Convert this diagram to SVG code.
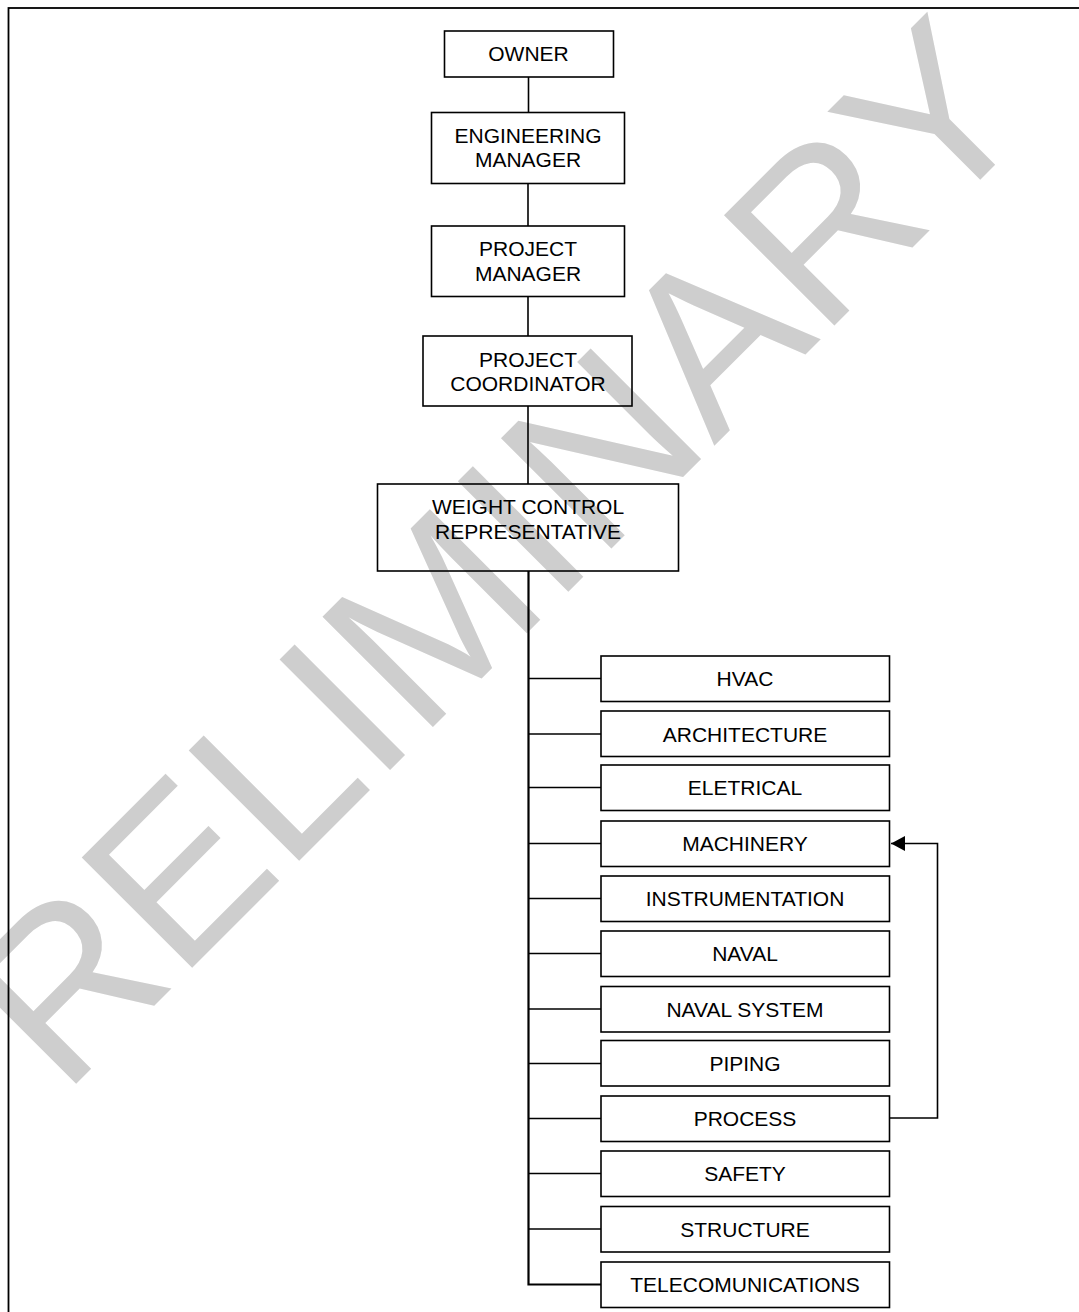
<svg xmlns="http://www.w3.org/2000/svg" width="1079" height="1312" viewBox="0 0 1079 1312">
<style>
.box{fill:none;stroke:#000;stroke-width:1.6}
.lbl{font-family:"Liberation Sans",Arial,sans-serif;font-size:21px;fill:#000;text-anchor:middle}
.wm{font-family:"Liberation Sans",Arial,sans-serif;font-size:227px;fill:#cecece}
.con{fill:none;stroke:#000;stroke-width:1.6}
.trunk{fill:none;stroke:#000;stroke-width:2.2}
</style>
<defs>
<marker id="ah" viewBox="0 0 14 15" refX="14" refY="7.5" markerWidth="14" markerHeight="15" markerUnits="userSpaceOnUse" orient="auto">
<path d="M0,0 L14,7.5 L0,15 Z" fill="#000"/>
</marker>
</defs>
<rect width="1079" height="1312" fill="#fff"/>
<g id="watermark">
<text class="wm" transform="translate(63,1097) rotate(-45)" x="0" y="0">RELIMINARY</text>
</g>
<rect id="border" x="8.5" y="8" width="1090" height="1320" fill="none" stroke="#000" stroke-width="1.8"/>
<g id="connectors">
<line class="con" x1="528.5" y1="77" x2="528.5" y2="112"/>
<line class="con" x1="528" y1="183" x2="528" y2="226"/>
<line class="con" x1="528" y1="297" x2="528" y2="336"/>
<line class="con" x1="528" y1="406" x2="528" y2="484"/>
<path class="trunk" d="M528.5,571 V1284.5 H601"/>
<line class="con" x1="528" y1="678.5" x2="601" y2="678.5"/>
<line class="con" x1="528" y1="734" x2="601" y2="734"/>
<line class="con" x1="528" y1="787.5" x2="601" y2="787.5"/>
<line class="con" x1="528" y1="843.5" x2="601" y2="843.5"/>
<line class="con" x1="528" y1="898.5" x2="601" y2="898.5"/>
<line class="con" x1="528" y1="953.5" x2="601" y2="953.5"/>
<line class="con" x1="528" y1="1009" x2="601" y2="1009"/>
<line class="con" x1="528" y1="1063.5" x2="601" y2="1063.5"/>
<line class="con" x1="528" y1="1118.5" x2="601" y2="1118.5"/>
<line class="con" x1="528" y1="1173.5" x2="601" y2="1173.5"/>
<line class="con" x1="528" y1="1229" x2="601" y2="1229"/>
<path class="con" stroke-width="2.2" d="M889.5,1118 H937.5 V843.5 H891" marker-end="url(#ah)"/>
</g>
<g id="owner"><rect class="box" x="444.5" y="31" width="169" height="46"/><text class="lbl" x="528.5" y="61">OWNER</text></g>
<g id="engineering-manager"><rect class="box" x="431.5" y="112.5" width="193" height="71"/><text class="lbl" x="528" y="143">ENGINEERING</text><text class="lbl" x="528" y="167">MANAGER</text></g>
<g id="project-manager"><rect class="box" x="431.5" y="226" width="193" height="70.5"/><text class="lbl" x="528" y="256">PROJECT</text><text class="lbl" x="528" y="281">MANAGER</text></g>
<g id="project-coordinator"><rect class="box" x="423" y="336" width="209" height="70"/><text class="lbl" x="528" y="366.5">PROJECT</text><text class="lbl" x="528" y="391">COORDINATOR</text></g>
<g id="weight-control-representative"><rect class="box" x="377.5" y="484" width="301" height="87"/><text class="lbl" x="528" y="513.5">WEIGHT CONTROL</text><text class="lbl" x="528" y="538.5">REPRESENTATIVE</text></g>
<g id="hvac"><rect class="box" x="601" y="656" width="288.5" height="45.5"/><text class="lbl" x="745" y="686">HVAC</text></g>
<g id="architecture"><rect class="box" x="601" y="711" width="288.5" height="45.5"/><text class="lbl" x="745" y="741.5">ARCHITECTURE</text></g>
<g id="eletrical"><rect class="box" x="601" y="765" width="288.5" height="45.5"/><text class="lbl" x="745" y="795">ELETRICAL</text></g>
<g id="machinery"><rect class="box" x="601" y="821" width="288.5" height="45.5"/><text class="lbl" x="745" y="851">MACHINERY</text></g>
<g id="instrumentation"><rect class="box" x="601" y="876" width="288.5" height="45.5"/><text class="lbl" x="745" y="906">INSTRUMENTATION</text></g>
<g id="naval"><rect class="box" x="601" y="931" width="288.5" height="45.5"/><text class="lbl" x="745" y="961">NAVAL</text></g>
<g id="naval-system"><rect class="box" x="601" y="986.5" width="288.5" height="45.5"/><text class="lbl" x="745" y="1016.5">NAVAL SYSTEM</text></g>
<g id="piping"><rect class="box" x="601" y="1040.5" width="288.5" height="45.5"/><text class="lbl" x="745" y="1070.5">PIPING</text></g>
<g id="process"><rect class="box" x="601" y="1096" width="288.5" height="45.5"/><text class="lbl" x="745" y="1126">PROCESS</text></g>
<g id="safety"><rect class="box" x="601" y="1151" width="288.5" height="45.5"/><text class="lbl" x="745" y="1181">SAFETY</text></g>
<g id="structure"><rect class="box" x="601" y="1206.5" width="288.5" height="45.5"/><text class="lbl" x="745" y="1236.5">STRUCTURE</text></g>
<g id="telecomunications"><rect class="box" x="601" y="1262" width="288.5" height="45.5"/><text class="lbl" x="745" y="1292">TELECOMUNICATIONS</text></g>
</svg>
